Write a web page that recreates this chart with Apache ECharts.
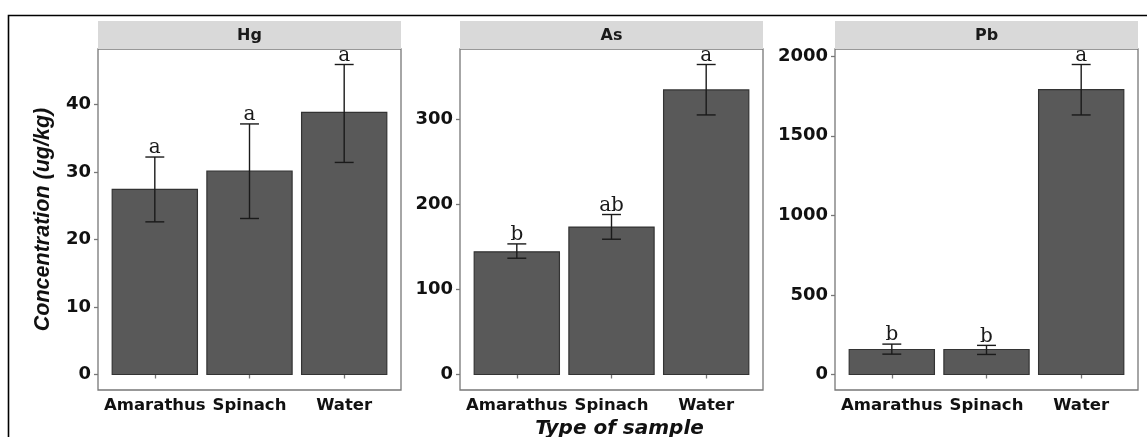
<!DOCTYPE html>
<html>
<head>
<meta charset="utf-8">
<script src="https://cdn.jsdelivr.net/npm/echarts@6/dist/echarts.min.js"></script>
<style>html,body{margin:0;padding:0;background:#fff;}#c{width:1147px;height:437px;}</style>
</head>
<body>
<div id="c"></div>
<script>
// ---- data ----
const categories = ['Amarathus', 'Spinach', 'Water'];
const panelNames = ['Hg', 'As', 'Pb'];
const hgMean = [27.4, 30.1, 38.8];
const hgLow  = [22.6, 23.1, 31.4];
const hgHigh = [32.2, 37.1, 45.9];
const asMean = [144, 173, 334];
const asLow  = [136.5, 158.8, 304.7];
const asHigh = [153.3, 187.8, 363.9];
const pbMean = [157, 157, 1790];
const pbLow  = [128, 126, 1631];
const pbHigh = [191, 183, 1948];
const hgLetters = ['a', 'a', 'a'];
const asLetters = ['b', 'ab', 'a'];
const pbLetters = ['b', 'b', 'a'];
const hgTicks = [0, 10, 20, 30, 40];
const asTicks = [0, 100, 200, 300];
const pbTicks = [0, 500, 1000, 1500, 2000];

const panels = [
  {name: panelNames[0], mean: hgMean, low: hgLow, high: hgHigh, letters: hgLetters, ticks: hgTicks},
  {name: panelNames[1], mean: asMean, low: asLow, high: asHigh, letters: asLetters, ticks: asTicks},
  {name: panelNames[2], mean: pbMean, low: pbLow, high: pbHigh, letters: pbLetters, ticks: pbTicks}
];

// ---- layout ----
const gridLefts = [98, 460, 835];
const gridWidth = 303;
const gridTop = 49;
const gridBottom = 47;
const stripTop = 21, stripH = 28;

const chart = echarts.init(document.getElementById('c'), null, {renderer: 'canvas'});

const grids = [], xAxes = [], yAxes = [], series = [], graphics = [];

panels.forEach((p, i) => {
  grids.push({left: gridLefts[i], top: gridTop, width: gridWidth, bottom: gridBottom,
    show: true, borderColor: '#777', borderWidth: 1.3, backgroundColor: '#fff',
    containLabel: false, outerBoundsMode: 'none'});
  const maxV = Math.max(...p.high);
  xAxes.push({
    type: 'value', gridIndex: i, min: 0.4, max: 3.6,
    axisLine: {show: false}, splitLine: {show: false},
    axisTick: {show: true, length: 4, lineStyle: {color: '#777', width: 1.3}, customValues: [1, 2, 3]},
    axisLabel: {show: true, customValues: [1, 2, 3], margin: 7,
      formatter: v => categories[Math.round(v) - 1] || '',
      fontFamily: 'DejaVu Sans', fontWeight: 'bold', fontSize: 16.5, color: '#111'},
    name: i === 1 ? 'Type of sample' : '', nameLocation: 'middle', nameGap: 25,
    nameTextStyle: {fontFamily: 'DejaVu Sans', fontWeight: 'bold', fontStyle: 'italic', fontSize: 20,
      color: '#111', padding: [0, 0, 0, 16]}
  });
  yAxes.push({
    type: 'value', gridIndex: i, min: -0.05 * maxV, max: 1.05 * maxV,
    axisLine: {show: false}, splitLine: {show: false},
    axisTick: {show: true, length: 4, lineStyle: {color: '#777', width: 1.3}, customValues: p.ticks},
    axisLabel: {show: true, customValues: p.ticks, margin: 7, formatter: v => String(v),
      fontFamily: 'DejaVu Sans', fontWeight: 'bold', fontSize: 18, color: '#111'},
    name: i === 0 ? 'Concentration (ug/kg)' : '', nameLocation: 'middle', nameGap: 44,
    nameTextStyle: {fontFamily: 'Liberation Sans', fontWeight: 'bold', fontStyle: 'italic', fontSize: 21.5, color: '#111'}
  });
  // bars
  series.push({
    type: 'custom', xAxisIndex: i, yAxisIndex: i, z: 2,
    data: p.mean.map((v, k) => [k + 1, v]),
    renderItem: (params, api) => {
      const x = api.value(0), y = api.value(1);
      const a = api.coord([x - 0.45, y]);
      const b = api.coord([x + 0.45, 0]);
      return {type: 'rect', shape: {x: a[0], y: a[1], width: b[0] - a[0], height: b[1] - a[1]},
        style: {fill: '#595959', stroke: '#333', lineWidth: 1.2}};
    }
  });
  // error bars + letters
  series.push({
    type: 'custom', xAxisIndex: i, yAxisIndex: i, z: 3,
    data: p.low.map((v, k) => [k + 1, v, p.high[k]]),
    renderItem: (params, api) => {
      const x = api.value(0), lo = api.value(1), hi = api.value(2);
      const letter = p.letters[params.dataIndex];
      const top = api.coord([x, hi]);
      const bot = api.coord([x, lo]);
      const l = api.coord([x - 0.1, hi])[0];
      const r = api.coord([x + 0.1, hi])[0];
      const st = {stroke: '#1a1a1a', lineWidth: 1.4};
      return {type: 'group', children: [
        {type: 'line', shape: {x1: top[0], y1: top[1], x2: bot[0], y2: bot[1]}, style: st},
        {type: 'line', shape: {x1: l, y1: top[1], x2: r, y2: top[1]}, style: st},
        {type: 'line', shape: {x1: l, y1: bot[1], x2: r, y2: bot[1]}, style: st},
        {type: 'text', x: top[0], y: top[1] + 1, style: {text: letter, fontFamily: 'DejaVu Serif',
          fontSize: 20, fill: '#1a1a1a', align: 'center', verticalAlign: 'bottom'}}
      ]};
    }
  });
  // strip
  graphics.push({type: 'rect', left: gridLefts[i], top: stripTop, z: 10,
    shape: {width: gridWidth, height: stripH}, style: {fill: '#d9d9d9'}});
  graphics.push({type: 'text', x: gridLefts[i] + gridWidth / 2, y: stripTop + stripH / 2 + 1, z: 11,
    style: {text: p.name, fontFamily: 'DejaVu Sans', fontWeight: 'bold', fontSize: 16,
      fill: '#1a1a1a', align: 'center', verticalAlign: 'middle'}});
});

// outer frame
graphics.push({type: 'polyline', z: 12, shape: {points: [[8.5, 437], [8.5, 15.5], [1147, 15.5]]},
  style: {stroke: '#000', lineWidth: 1.6, fill: null}});

chart.setOption({
  animation: false,
  backgroundColor: '#fff',
  grid: grids, xAxis: xAxes, yAxis: yAxes, series: series, graphic: graphics
});
</script>
</body>
</html>
